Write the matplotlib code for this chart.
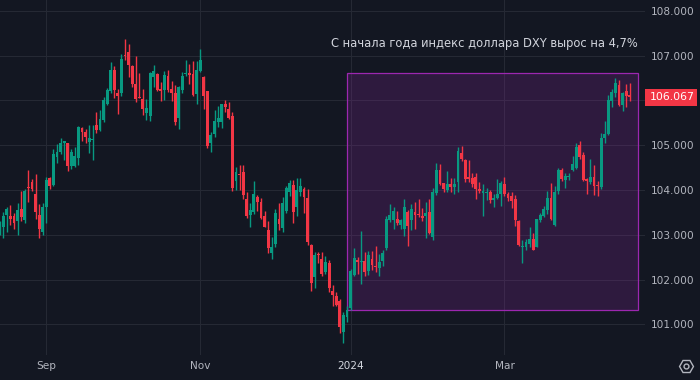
import numpy as np
import matplotlib
matplotlib.use("Agg")
import matplotlib.pyplot as plt
from matplotlib.patches import Rectangle
from matplotlib.lines import Line2D
from matplotlib.transforms import blended_transform_factory

# daily DXY candles, mid-Aug 2023 .. Apr 2024
opens = [103.10, 103.18, 103.44, 103.41, 103.42, 103.30, 103.57, 103.33, 104.07, 104.18,
         103.91, 103.44, 103.07, 103.61, 104.27, 104.11, 104.74, 104.85, 105.06, 105.04,
         104.54, 104.54, 104.71, 105.39, 105.29, 105.08, 105.12, 105.45, 105.35, 105.56,
         105.92, 106.21, 106.68, 106.17, 106.16, 107.02, 107.08, 106.76, 106.36, 106.08,
         106.03, 105.71, 105.65, 106.53, 106.59, 106.25, 106.23, 106.55, 106.25, 106.17,
         105.61, 106.23, 106.58, 106.61, 106.59, 106.14, 106.66, 106.52, 106.20, 105.06,
         105.25, 105.52, 105.52, 105.93, 105.80, 105.65, 104.21, 104.36, 104.40, 103.80,
         103.44, 103.50, 103.85, 103.74, 103.41, 103.10, 102.59, 102.79, 103.35, 103.16,
         103.54, 103.96, 104.11, 103.61, 103.96, 104.02, 103.83, 102.77, 102.06, 102.58,
         102.46, 102.16, 102.36, 101.74, 101.64, 101.52, 100.84, 101.17, 101.37, 102.10,
         102.44, 102.39, 102.42, 102.20, 102.46, 102.30, 102.27, 102.42, 102.71, 103.33,
         103.34, 103.36, 103.22, 103.13, 103.51, 103.33, 103.51, 103.47, 103.42, 103.42,
         103.50, 102.96, 103.94, 104.44, 104.15, 104.00, 104.14, 104.06, 104.17, 104.82,
         104.67, 104.28, 104.27, 104.29, 104.02, 103.93, 103.94, 103.96, 103.77, 103.83,
         103.91, 104.13, 103.91, 103.87, 103.80, 103.31, 102.73, 102.72, 102.79, 102.91,
         102.73, 103.34, 103.42, 103.55, 103.83, 103.22, 103.97, 104.44, 104.22, 104.29,
         104.45, 104.48, 105.00, 104.78, 104.24, 104.18, 104.28, 104.11, 104.06, 105.16,
         105.24, 105.99, 106.17, 106.34, 105.90, 106.20, 106.11]
highs = [103.30, 103.51, 103.61, 103.66, 103.48, 103.70, 103.97, 104.02, 104.45, 104.24,
         104.36, 103.68, 103.72, 104.28, 104.28, 104.91, 105.02, 105.16, 105.10, 105.05,
         104.91, 104.97, 105.43, 105.40, 105.36, 105.45, 105.45, 105.75, 105.79, 106.07,
         106.27, 106.86, 106.76, 106.25, 107.03, 107.36, 107.27, 106.78, 106.99, 106.62,
         106.25, 106.03, 106.64, 106.79, 106.62, 106.40, 106.66, 106.68, 106.44, 106.34,
         106.32, 106.64, 106.91, 106.81, 106.87, 106.88, 107.15, 106.55, 106.22, 105.30,
         105.79, 105.87, 105.92, 106.01, 105.96, 105.75, 104.51, 104.56, 104.56, 103.96,
         103.70, 104.20, 103.89, 103.83, 103.53, 103.31, 102.96, 103.57, 103.70, 103.84,
         104.09, 104.22, 104.22, 104.26, 104.26, 104.07, 104.03, 102.79, 102.62, 102.62,
         102.62, 102.53, 102.44, 101.88, 101.73, 101.57, 101.28, 101.41, 102.23, 102.71,
         102.51, 103.08, 102.62, 102.64, 102.64, 102.75, 102.57, 102.66, 103.42, 103.68,
         103.61, 103.53, 103.36, 103.81, 103.55, 103.68, 103.74, 103.81, 103.59, 103.73,
         103.80, 104.04, 104.60, 104.58, 104.16, 104.42, 104.26, 104.26, 104.97, 104.99,
         104.70, 104.67, 104.37, 104.38, 104.18, 104.13, 104.04, 104.01, 103.91, 104.25,
         104.20, 104.28, 103.96, 103.95, 103.89, 103.33, 102.88, 102.91, 103.18, 103.03,
         103.36, 103.49, 103.65, 103.98, 104.15, 104.08, 104.50, 104.50, 104.37, 104.38,
         104.77, 105.04, 105.09, 104.84, 104.26, 104.69, 104.55, 104.20, 105.28, 105.54,
         106.12, 106.25, 106.51, 106.45, 106.18, 106.36, 106.39]
lows = [103.00, 102.93, 103.07, 103.22, 103.12, 102.99, 103.30, 103.27, 103.74, 103.97,
        103.35, 102.93, 102.99, 103.27, 104.03, 104.10, 104.61, 104.80, 104.68, 104.43,
        104.47, 104.51, 104.56, 105.10, 105.04, 104.82, 104.67, 105.28, 105.32, 105.52,
        105.90, 106.17, 106.05, 105.69, 106.09, 106.90, 106.52, 106.30, 105.97, 106.05,
        105.68, 105.57, 105.55, 106.29, 106.20, 105.98, 106.01, 106.18, 105.99, 105.45,
        105.37, 106.16, 106.55, 106.36, 106.09, 105.92, 106.64, 105.81, 104.93, 104.85,
        105.19, 105.40, 105.39, 105.75, 105.58, 103.98, 103.99, 104.00, 103.81, 103.38,
        103.18, 103.46, 103.54, 103.35, 103.17, 102.60, 102.45, 102.72, 103.10, 103.07,
        103.48, 103.87, 103.27, 103.42, 103.87, 103.49, 102.78, 101.75, 101.82, 102.37,
        102.07, 102.13, 101.73, 101.42, 101.42, 100.81, 100.59, 101.06, 101.32, 102.07,
        102.13, 101.91, 102.07, 102.10, 102.21, 102.16, 102.09, 102.31, 102.67, 103.29,
        103.13, 103.22, 103.12, 102.98, 102.76, 103.10, 103.13, 103.39, 103.31, 102.93,
        103.02, 102.89, 103.89, 104.11, 103.95, 103.96, 103.96, 103.90, 103.95, 104.65,
        104.17, 104.17, 104.06, 103.80, 103.94, 103.42, 103.77, 103.72, 103.61, 103.80,
        103.65, 103.87, 103.76, 103.60, 103.20, 102.76, 102.36, 102.67, 102.72, 102.66,
        102.72, 103.29, 103.39, 103.46, 103.34, 103.20, 103.92, 104.20, 104.04, 104.23,
        104.43, 104.46, 104.69, 104.21, 103.92, 104.14, 103.89, 103.87, 104.03, 105.04,
        105.23, 105.86, 106.08, 105.87, 105.77, 105.86, 105.99]
closes = [103.20, 103.42, 103.57, 103.36, 103.26, 103.55, 103.40, 103.97, 104.05, 104.02,
          103.52, 103.13, 103.63, 104.22, 104.10, 104.80, 104.85, 105.06, 105.09, 104.54,
          104.85, 104.76, 105.41, 105.29, 105.18, 105.15, 105.13, 105.34, 105.58, 106.01,
          106.23, 106.68, 106.23, 106.10, 106.92, 106.99, 106.78, 106.36, 106.03, 106.06,
          105.81, 105.82, 106.62, 106.66, 106.23, 106.20, 106.57, 106.23, 106.17, 105.52,
          106.29, 106.54, 106.61, 106.57, 106.11, 106.68, 106.91, 106.10, 104.98, 105.22,
          105.54, 105.61, 105.92, 105.86, 105.60, 104.04, 104.41, 104.34, 103.88, 103.43,
          103.55, 103.91, 103.74, 103.37, 103.18, 102.71, 102.73, 103.48, 103.24, 103.70,
          104.05, 104.15, 103.52, 104.00, 104.09, 103.85, 102.84, 101.93, 102.55, 102.55,
          102.13, 102.39, 101.82, 101.66, 101.43, 100.95, 101.21, 101.32, 102.19, 102.48,
          102.39, 102.41, 102.18, 102.55, 102.32, 102.28, 102.39, 102.59, 103.35, 103.44,
          103.53, 103.27, 103.33, 103.61, 103.19, 103.57, 103.44, 103.44, 103.38, 103.48,
          103.05, 103.95, 104.45, 104.13, 104.02, 104.14, 104.06, 104.14, 104.87, 104.69,
          104.24, 104.24, 104.13, 104.02, 103.98, 103.97, 103.96, 103.77, 103.82, 103.90,
          104.15, 103.90, 103.82, 103.75, 103.33, 102.78, 102.75, 102.85, 102.91, 102.67,
          103.35, 103.44, 103.57, 103.83, 103.35, 103.95, 104.44, 104.24, 104.31, 104.30,
          104.59, 104.95, 104.74, 104.22, 104.21, 104.28, 104.10, 104.09, 105.17, 105.25,
          106.01, 106.18, 106.38, 105.89, 106.17, 106.10, 106.067]

month_pos = [13, 56, 98, 141]
month_labels = ["Sep", "Nov", "2024", "Mar"]
price_ticks = [101, 102, 103, 104, 105, 106, 107, 108]

box_start = 97          # last candle of 2023
box_top = 106.61
note = "С начала года индекс доллара DXY вырос на 4,7%"

BG = "#131722"
GRID = "#252934"
TXT = "#b2b5be"
UP = "#089981"
DOWN = "#f23645"
PURPLE = "#9c27b0"

W, H = 700, 380
fig = plt.figure(figsize=(7, 3.8), dpi=100, facecolor=BG)
ax = fig.add_axes([0, 25 / H, 645 / W, 355 / H])
ax.set_facecolor(BG)

o = np.array(opens)
c = np.array(closes)
x = np.arange(len(c))
last = closes[-1]
colors = [UP if cc >= oo else DOWN for oo, cc in zip(o, c)]
ax.vlines(x, lows, highs, colors=colors, lw=1.0, zorder=3)
ax.bar(x, np.maximum(np.abs(c - o), 0.025), 0.8, bottom=np.minimum(o, c),
       color=colors, lw=0, zorder=3)

# highlighted year-to-date box
ax.add_patch(Rectangle((box_start, closes[box_start]), len(c) + 1.3 - box_start,
                       box_top - closes[box_start], facecolor=(0.612, 0.153, 0.69, 0.2),
                       edgecolor=PURPLE, lw=0.9, zorder=2))

ax.set_xlim(0.08, 180.25)
ax.set_ylim(100.317, 108.241)
ax.set_xticks(month_pos)
ax.set_xticklabels(month_labels)
ax.set_yticks(price_ticks)
# the 106 label is hidden behind the last-price tag
ax.set_yticklabels(["" if abs(p - last) < 0.3 else f"{p:.3f}" for p in price_ticks])
ax.yaxis.tick_right()
ax.grid(color=GRID, lw=0.75)
ax.set_axisbelow(True)
for s in ax.spines.values():
    s.set_visible(False)
ax.tick_params(length=0, colors=TXT, labelsize=7.6)
ax.tick_params(axis="y", pad=4.5)
ax.tick_params(axis="x", pad=4.5)
ax.get_xticklabels()[2].set_color("#d1d4dc")

fig.text(638 / W, 1 - 43 / H, note, ha="right", va="center", color="#d1d4dc", fontsize=8.3)

# last price tag
tr = blended_transform_factory(fig.transFigure, ax.transData)
fig.add_artist(Rectangle((645 / W, last - 0.19), 52 / W, 0.38, transform=tr,
                         facecolor=DOWN, edgecolor="none"))
fig.text(650 / W, last, f"{last:.3f}", transform=tr, ha="left", va="center",
         color="white", fontsize=7.8)

# settings icon
fig.add_artist(Line2D([686 / W], [1 - 366 / H], marker="H", markersize=10,
                      markerfacecolor="none", markeredgecolor=TXT, mew=1,
                      transform=fig.transFigure))
fig.add_artist(Line2D([686 / W], [1 - 366 / H], marker="o", markersize=3.5,
                      markerfacecolor="none", markeredgecolor=TXT, mew=1,
                      transform=fig.transFigure))

fig.savefig("out.png", dpi=100, facecolor=BG)
